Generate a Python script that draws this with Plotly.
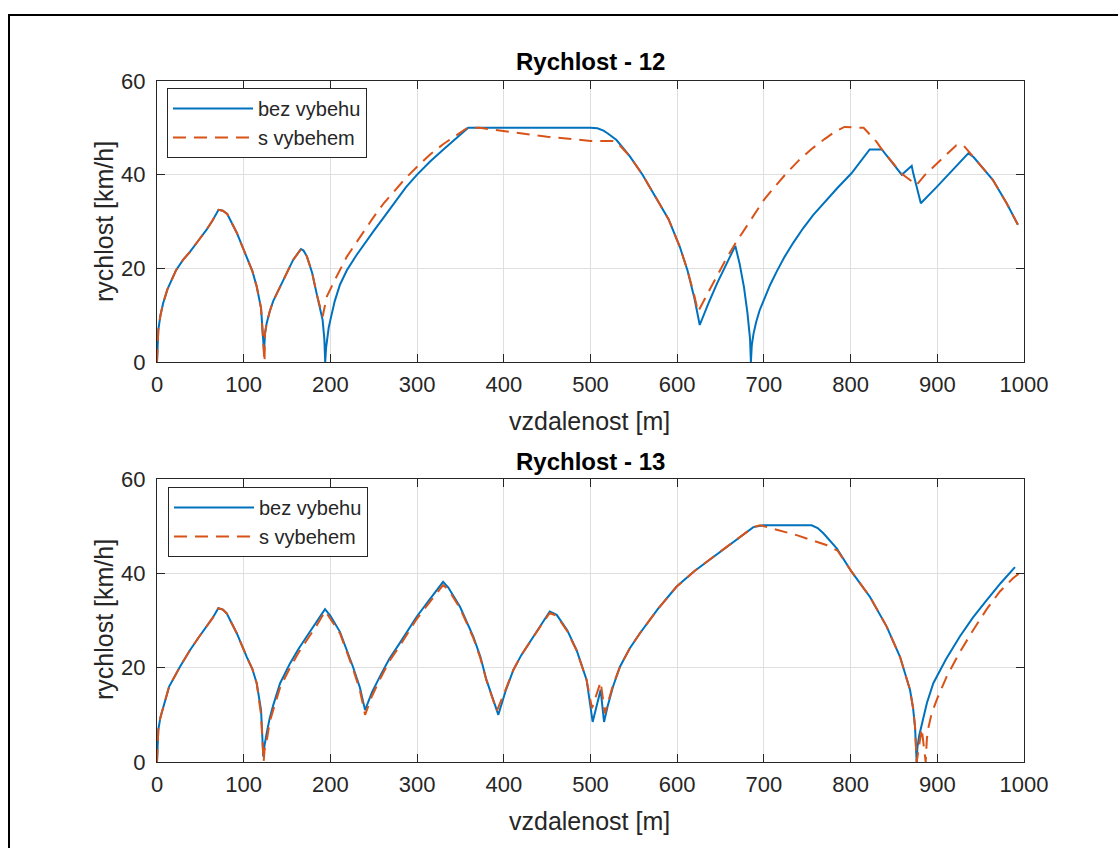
import plotly.graph_objects as go

# ---- Rychlost - 12 ----
d12_bez = [0, 0.5, 1.5, 4, 7, 12, 22, 30, 38, 48, 57, 64, 71, 76, 81, 92, 103.5, 110, 115, 120, 123.5,
           124.5, 126.5, 130, 134, 142, 150, 157, 166, 169, 173, 179, 184, 189, 191, 193, 194,
           195, 196, 198, 200, 205, 211, 219, 230, 240, 250, 262, 275, 287, 300, 315, 330, 345, 359,
           500, 508, 515, 520, 530, 545, 560, 575, 590, 603, 612, 620, 626,
           636, 646, 657, 667, 672, 677, 681, 684, 685,
           686, 688, 691, 695, 700, 707, 715, 724, 734, 745, 757, 770, 785, 801, 812, 822, 836,
           859, 868, 870.5, 872, 881, 900, 918, 936, 942, 964, 980, 993]
v12_bez = [0, 4.0, 6.8, 10.0, 12.5, 15.5, 19.6, 21.8, 23.5, 26.0, 28.2, 30.2, 32.5, 32.3, 31.6, 27.6, 22.5, 19.4, 16.1, 11.5, 2.0,
           6.0, 8.3, 10.8, 13.0, 16.1, 19.3, 21.8, 24.1, 23.8, 22.5, 19.0, 14.7, 11.0, 9.0, 5.0, 0,
           3.0, 5.0, 7.3, 9.0, 13.0, 16.5, 19.6, 22.8, 25.5, 28.0, 31.0, 34.3, 37.3, 40.0, 42.8, 45.3, 47.8, 50.0,
           50.0, 49.9, 49.4, 48.8, 47.4, 44.0, 40.0, 35.3, 30.5, 24.6, 19.5, 13.5, 7.9,
           12.5, 16.8, 21.0, 24.8, 21.0, 16.0, 10.5, 5.0, 0,
           3.5, 6.0, 8.5, 11.0, 13.3, 16.4, 19.4, 22.5, 25.5, 28.5, 31.4, 34.2, 37.2, 40.3, 42.9, 45.4, 45.4,
           40.0, 41.5, 41.9, 40.5, 33.9, 37.5, 41.0, 44.6, 43.7, 38.9, 33.9, 29.3]

d12_s = [0, 0.5, 1.5, 4, 7, 12, 22, 30, 38, 48, 57, 64, 71, 76, 81, 92, 103.5, 110, 115, 120, 124,
         124.5, 126.5, 130, 134, 142, 150, 157, 166, 169, 173, 179, 184, 189, 191,
         196, 205, 219, 235, 250, 262, 275, 287, 300, 315, 330, 345, 358, 372, 450, 500, 526, 530, 545,
         560, 575, 590, 603, 612, 620, 624, 635, 646, 657, 667, 680, 690, 700, 712, 725,
         740, 755, 770, 783, 793, 815, 830, 836, 859, 876, 886, 905, 922, 930, 942, 964,
         980, 993]
v12_s = [0, 4.0, 6.8, 10.0, 12.5, 15.5, 19.6, 21.8, 23.5, 26.0, 28.2, 30.2, 32.5, 32.3, 31.6, 27.6, 22.5, 19.4, 16.1, 11.5, 0,
         6.0, 8.3, 10.8, 13.0, 16.1, 19.3, 21.8, 24.1, 23.8, 22.5, 19.0, 14.7, 11.0, 9.7,
         14.0, 17.5, 22.5, 27.0, 31.0, 34.0, 36.7, 39.3, 41.7, 44.3, 46.5, 48.4, 50.0, 50.0, 48.1, 47.2, 47.2, 47.0, 44.0,
         40.0, 35.3, 30.5, 24.6, 19.5, 14.0, 10.7, 14.6, 18.5, 22.2, 25.3, 29.0, 31.9, 34.6, 37.3, 40.1,
         43.0, 45.5, 47.6, 49.3, 50.2, 50.0, 47.0, 45.4, 40.2, 37.8, 40.0, 43.3, 46.3, 46.3, 43.7, 38.9,
         33.9, 29.3]

# ---- Rychlost - 13 ----
d13_bez = [0, 0.5, 1.5, 4, 7.3, 14, 26.5, 38, 48, 57.3, 64, 70.7, 76, 80.4, 92, 103.5, 110, 115, 120, 122.6,
           124, 126.5, 130, 134, 142, 153.4, 163, 172.7, 184, 193.8, 200, 211, 226, 234, 240,
           248, 257, 268, 280, 299.5, 315, 330, 336, 349.5, 364.8, 373, 380, 387, 393.7,
           402, 411, 420, 430, 442, 453, 461, 473, 484, 495.5, 502.5, 511.7, 515.6,
           520, 526, 534, 545, 557, 578, 599.4, 620, 641.7, 665, 687.8, 699.4, 755, 762,
           768.6, 784, 801.3, 822.4, 841.6, 857, 868.5, 872, 874.3, 876.2,
           877, 879, 882, 888, 895.4, 910, 926, 941, 957, 973, 989.6]
v13_bez = [0, 4.0, 6.8, 9.5, 11.7, 16.0, 20.2, 23.7, 26.4, 28.7, 30.5, 32.6, 32.3, 31.5, 27.3, 22.3, 19.7, 16.7, 11.0, 1.1,
           3.5, 6.1, 9.3, 12.0, 16.7, 20.9, 23.9, 26.6, 29.6, 32.4, 31.0, 27.6, 20.2, 15.8, 11.0,
           14.8, 18.1, 21.9, 25.2, 30.8, 34.6, 38.2, 37.0, 32.9, 26.6, 22.3, 17.4, 13.5, 10.0,
           15.0, 19.5, 22.6, 25.5, 28.9, 31.9, 31.2, 28.0, 23.7, 17.4, 8.5, 15.3, 8.5,
           12.0, 16.0, 20.2, 24.0, 27.3, 32.5, 37.2, 40.5, 43.5, 46.7, 49.8, 50.2, 50.2, 49.6,
           48.5, 45.3, 40.3, 35.0, 28.7, 22.3, 15.3, 11.5, 7.5, 0,
           3.0, 5.5, 7.8, 12.5, 16.7, 21.8, 26.6, 30.6, 34.3, 37.9, 41.3]

d13_s = [0, 0.5, 1.5, 4, 7.3, 14, 26.5, 38, 48, 57.3, 64, 70.7, 76, 80.4, 92, 103.5, 110, 115, 120, 123,
         124, 127, 130, 134, 142, 153.4, 163, 172.7, 184, 194, 200, 211, 226, 234, 240,
         248, 257, 268, 280, 299.5, 315, 330, 336, 349.5, 364.8, 373, 380, 386, 392,
         402, 411, 420, 430, 442, 453, 461, 473, 484, 495.5, 501.7, 511.7, 516.6,
         520, 526, 534, 545, 557, 578, 599.4, 620, 641.7, 665, 687.8, 695.5, 737.8, 772,
         785, 801.3, 822.4, 841.6, 857, 868.5, 872, 874.3, 876.2,
         882, 886.6, 888, 890, 893.5, 900, 910.8, 925, 941.5, 957, 972, 987, 1000]
v13_s = [0, 4.0, 6.8, 9.5, 11.7, 16.0, 20.2, 23.7, 26.4, 28.7, 30.5, 32.6, 32.3, 31.5, 27.3, 22.3, 19.7, 16.7, 10.0, 0,
         2.5, 5.0, 8.5, 11.0, 15.8, 20.0, 23.1, 25.8, 28.9, 32.0, 30.3, 27.3, 19.8, 15.2, 10.0,
         14.0, 17.5, 21.4, 24.6, 30.3, 34.0, 37.5, 36.6, 32.6, 26.3, 22.0, 17.3, 14.0, 10.8,
         15.3, 19.5, 22.6, 25.5, 28.7, 31.6, 31.0, 27.8, 23.6, 17.4, 11.4, 17.0, 10.3,
         12.5, 16.3, 20.2, 24.0, 27.3, 32.5, 37.2, 40.5, 43.5, 46.7, 49.8, 50.2, 48.1, 46.0,
         44.8, 40.3, 35.0, 28.7, 22.3, 15.3, 11.5, 7.5, 0,
         7.1, 0, 5.0, 7.5, 10.3, 13.5, 18.1, 23.0, 28.0, 32.4, 36.1, 38.9, 40.8]

titles = ["Rychlost - 12", "Rychlost - 13"]
series_names = ["bez vybehu", "s vybehem"]
x_ticks = list(range(0, 1001, 100))
y_ticks = [0, 20, 40, 60]

W, H = 1118, 848
BLUE = "#0072BD"
ORANGE = "#D95319"
AX = "#262626"
GRID = "#dfdfdf"
FONT = "Liberation Sans"

def px(x):
    return x / W

def py(y):
    return 1 - y / H

x_dom = [px(157), px(1024)]
y_doms = [[py(362), py(81)], [py(762), py(479)]]

fig = go.Figure()

data = [(d12_bez, v12_bez, d12_s, v12_s), (d13_bez, v13_bez, d13_s, v13_s)]
for i, (xb, yb, xs, ys) in enumerate(data):
    xa = "x" if i == 0 else "x2"
    ya = "y" if i == 0 else "y2"
    leg = "legend" if i == 0 else "legend2"
    fig.add_trace(go.Scatter(x=xb, y=yb, mode="lines", name=series_names[0],
                             line=dict(color=BLUE, width=2),
                             xaxis=xa, yaxis=ya, legend=leg))
    fig.add_trace(go.Scatter(x=xs, y=ys, mode="lines", name=series_names[1],
                             line=dict(color=ORANGE, width=2, dash="13px,8px"),
                             xaxis=xa, yaxis=ya, legend=leg))

axis_common = dict(
    automargin=False,
    showgrid=True, gridcolor=GRID, gridwidth=1,
    zeroline=False, showline=True, linecolor=AX, linewidth=1,
    mirror="ticks", ticks="inside", ticklen=8, tickcolor=AX, tickwidth=1,
    tickfont=dict(family=FONT, size=22, color=AX),
)

for i in range(2):
    sfx = "" if i == 0 else "2"
    fig.update_layout(**{
        "xaxis" + sfx: dict(axis_common, domain=x_dom, range=[0, 1000],
                            tickvals=x_ticks, anchor="y" + sfx, ticklabelstandoff=3),
        "yaxis" + sfx: dict(axis_common, domain=y_doms[i], range=[0, 60],
                            tickvals=y_ticks, anchor="x" + sfx, ticklabelstandoff=6),
    })

legend_common = dict(
    xanchor="left", yanchor="top", bgcolor="white",
    bordercolor=AX, borderwidth=1, itemwidth=80,
    font=dict(family=FONT, size=20, color=AX),
    xref="paper", yref="paper",
)
fig.update_layout(
    legend=dict(legend_common, x=px(167), y=py(88)),
    legend2=dict(legend_common, x=px(168), y=py(487)),
)

annotations = []
title_y = [61, 461]
xlabel_y = [421, 821]
ylabel_y = [222, 620]
for i in range(2):
    annotations.append(dict(text="<b>%s</b>" % titles[i], x=px(590.5), y=py(title_y[i]),
                            xref="paper", yref="paper", showarrow=False,
                            xanchor="center", yanchor="middle",
                            font=dict(family=FONT, size=24, color="black")))
    annotations.append(dict(text="vzdalenost [m]", x=px(589), y=py(xlabel_y[i]),
                            xref="paper", yref="paper", showarrow=False,
                            xanchor="center", yanchor="middle",
                            font=dict(family=FONT, size=25, color=AX)))
    annotations.append(dict(text="rychlost [km/h]", x=px(104), y=py(ylabel_y[i]),
                            xref="paper", yref="paper", showarrow=False, textangle=-90,
                            xanchor="center", yanchor="middle",
                            font=dict(family=FONT, size=25, color=AX)))

fig.update_layout(
    width=W, height=H,
    margin=dict(l=0, r=0, t=0, b=0, autoexpand=False),
    paper_bgcolor="white", plot_bgcolor="white",
    annotations=annotations,
    shapes=[dict(type="rect", xref="paper", yref="paper",
                 x0=px(9), y0=-0.05, x1=1.05, y1=py(15),
                 line=dict(color="black", width=2), layer="above")],
)

fig.write_html("out.html")
